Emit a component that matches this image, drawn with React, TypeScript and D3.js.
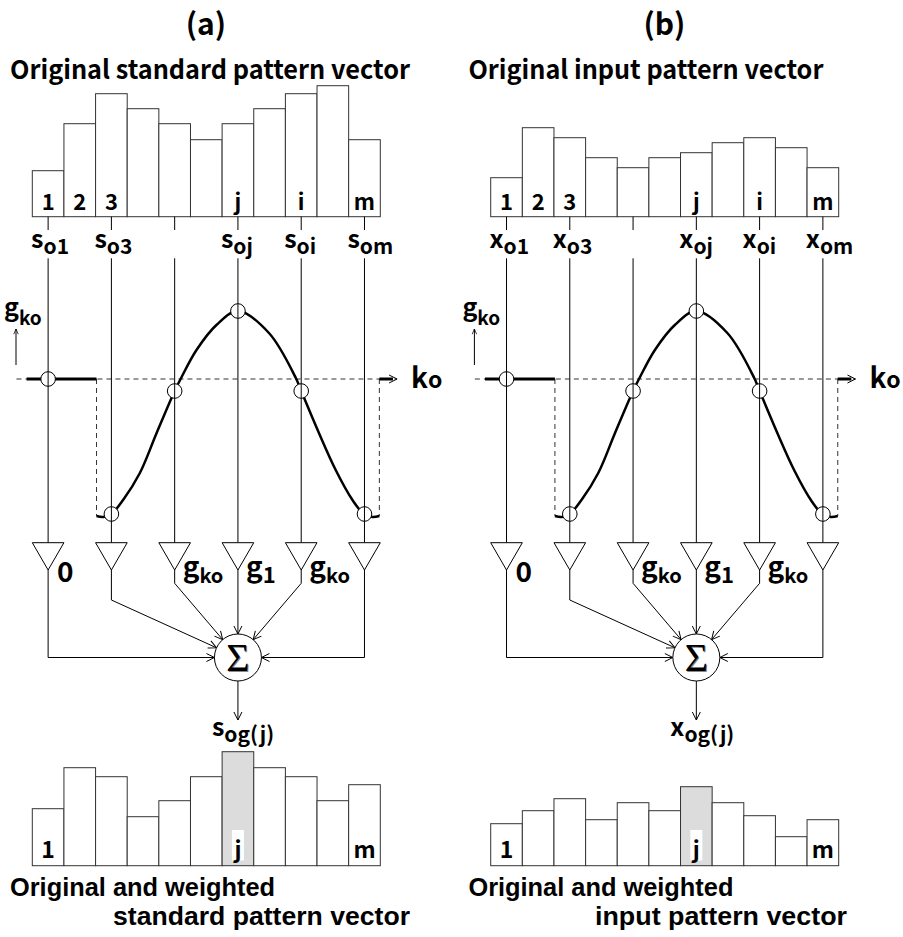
import React from 'react';
import * as d3 from 'd3';

// bar heights (same unit for all four vectors)
const standardValues = [46, 93, 123, 108, 93, 77, 93, 108, 123, 131, 77];
const inputValues = [39, 89, 79, 59, 49, 59, 64, 74, 79, 69, 49];
const standardWeighted = [57, 98, 89, 49, 65, 89, 114, 98, 89, 65, 81];
const inputWeighted = [42, 55, 67, 46, 63, 55, 79, 63, 50, 29, 46];

const barLabels = ['1', '2', '3', '', '', '', 'j', '', 'i', '', 'm'];
const weightedLabels = ['1', '', '', '', '', '', 'j', '', '', '', 'm'];

// taps: column, subscript of the label, gain label
const tapCols = [0, 2, 4, 6, 8, 10];
const tapSubs = ['1', '3', '', 'j', 'i', 'm'];
const tapGainMain = ['0', '', 'g', 'g', 'g', ''];
const tapGainSub = ['', '', 'ko', '1', 'ko', ''];
const tapGain = [0, -135, -12, 68, -12, -135];

// gain curve g(k_o), offset in columns from j
const kernelOffset = [-4.47, -4.25, -4.0, -3.63, -3.1, -2.57, -2.0, -1.78, -1.31, -0.68, 0, 0.98, 1.83, 2.0, 2.56, 3.09, 3.62, 3.98, 4.25, 4.47];
const kernelGain = [-137, -138, -135, -121, -94, -54, -12, 2, 29, 54, 68, 46, 1, -12, -54, -91, -121, -135, -138, -137];
const flatLeft = [-6.68, -4.47];
const flatRight = [4.47, 4.9];
const axisRange = [-7.0, 5.03];

const FONT = "'Noto Sans CJK JP', 'Noto Sans', sans-serif";
const FOOT_FONT = "'Liberation Sans', Arial, sans-serif";

const x = d3.scaleBand<number>().domain(d3.range(11)).range([32.3, 380.3]);
const bw = x.bandwidth();
const cx = (i: number) => (x(i) as number) + bw / 2;
const off = d3.scaleLinear().domain([-6, 4]).range([cx(0), cx(10)]);
const gY = d3.scaleLinear().domain([-140, 70]).range([519, 309]);
const yTop = d3.scaleLinear().domain([0, 140]).range([216.7, 76.7]);
const yBot = d3.scaleLinear().domain([0, 140]).range([865.7, 725.7]);

const SIG = { x: cx(6), y: 657.5, r: 23.5 };
const TRI_TOP = 542.7;
const TRI_BOT = 570;

const curveLine = d3
  .line<number>()
  .x((d) => off(kernelOffset[d]))
  .y((d) => gY(kernelGain[d]))
  .curve(d3.curveCatmullRom);

const toCircle = (px: number, py: number) => {
  const dx = SIG.x - px;
  const dy = SIG.y - py;
  const len = Math.hypot(dx, dy);
  return [SIG.x - (dx / len) * SIG.r, SIG.y - (dy / len) * SIG.r];
};

// where each wire leaves its amplifier column toward the sum (null = straight down)
const bendY = [657.5, 600, 583.3, null, 583.3, 657.5];

type PanelProps = {
  dx: number;
  letter: string;
  title: string;
  titleLen: number;
  sym: string;
  top: number[];
  bottom: number[];
  foot1Len: number;
  foot2: string;
  foot2X: number;
  foot2Len: number;
};

const Panel = ({ dx, letter, title, titleLen, sym, top, bottom, foot1Len, foot2, foot2X, foot2Len }: PanelProps) => {
  return (
    <g transform={`translate(${dx},0)`} fontFamily={FONT} fontWeight={700}>
      <text x={206} y={35} fontSize={30} textAnchor="middle">{letter}</text>
      <text x={10} y={79} fontSize={26} textLength={titleLen} lengthAdjust="spacingAndGlyphs">{title}</text>

      {/* top vector */}
      {top.map((v, i) => (
        <rect key={'t' + i} x={x(i)} y={yTop(v)} width={bw} height={yTop(0) - yTop(v)} fill="#fff" stroke="#333" strokeWidth={1} />
      ))}
      {barLabels.map((l, i) => (
        <text key={'tl' + i} x={cx(i)} y={210} fontSize={22} textAnchor="middle">{l}</text>
      ))}

      {/* taps */}
      {tapCols.map((c, k) => (
        <g key={'tap' + k}>
          <line x1={cx(c)} x2={cx(c)} y1={yTop(0)} y2={230} stroke="#000" />
          {tapSubs[k] !== '' && (
            <text x={cx(c) - 17} y={248} fontSize={25}>
              {sym}
              <tspan dy={6} fontSize={21}>{'o' + tapSubs[k]}</tspan>
            </text>
          )}
        </g>
      ))}

      {/* g axis */}
      <line x1={off(axisRange[0])} x2={off(axisRange[1])} y1={gY(0)} y2={gY(0)} stroke="#333" strokeDasharray="5,4" markerEnd="url(#arr)" />
      <line x1={off(-4.47)} x2={off(-4.47)} y1={gY(0)} y2={gY(-137)} stroke="#333" strokeDasharray="5,4" />
      <line x1={off(4.47)} x2={off(4.47)} y1={gY(0)} y2={gY(-137)} stroke="#333" strokeDasharray="5,4" />
      <line x1={off(flatLeft[0])} x2={off(flatLeft[1])} y1={gY(0)} y2={gY(0)} stroke="#000" strokeWidth={3} />
      <line x1={off(flatRight[0])} x2={off(flatRight[1])} y1={gY(0)} y2={gY(0)} stroke="#000" strokeWidth={3} />
      <path d={curveLine(d3.range(kernelOffset.length)) || ''} fill="none" stroke="#000" strokeWidth={2.5} />
      <text x={411} y={388} fontSize={28}>
        k<tspan fontSize={23}>o</tspan>
      </text>
      <text x={4} y={316} fontSize={25}>
        g<tspan dy={9} fontSize={19}>ko</tspan>
      </text>
      <line x1={16} x2={16} y1={365} y2={329} stroke="#000" markerEnd="url(#arrS)" />

      {tapCols.map((c, k) => (
        <circle key={'gc' + k} cx={cx(c)} cy={gY(tapGain[k])} r={7.3} fill="#fff" stroke="#000" />
      ))}
      {tapCols.map((c, k) => (
        <line key={'vl' + k} x1={cx(c)} x2={cx(c)} y1={258.3} y2={TRI_TOP} stroke="#000" />
      ))}

      {/* amplifiers */}
      {tapCols.map((c, k) => (
        <g key={'amp' + k}>
          <path d={`M${x(c)},${TRI_TOP}L${(x(c) as number) + bw},${TRI_TOP}L${cx(c)},${TRI_BOT}Z`} fill="#fff" stroke="#000" />
          {tapGainMain[k] !== '' && (
            <text x={cx(c) + (k === 0 ? 9 : 8)} y={tapGainMain[k] === '0' ? 582 : 577} fontSize={28}>
              {tapGainMain[k]}
              <tspan dy={6} fontSize={tapGainSub[k] === '1' ? 22 : 20}>{tapGainSub[k]}</tspan>
            </text>
          )}
        </g>
      ))}

      {/* wiring to the sum */}
      {tapCols.map((c, k) => {
        const by = bendY[k];
        if (by === null) {
          return <line key={'w' + k} x1={cx(c)} x2={cx(c)} y1={TRI_BOT} y2={SIG.y - SIG.r} stroke="#000" markerEnd="url(#arr)" />;
        }
        const end = k === 0 || k === 5 ? [SIG.x + (k === 0 ? -SIG.r : SIG.r), by] : toCircle(cx(c), by);
        return (
          <path key={'w' + k} d={`M${cx(c)},${TRI_BOT}L${cx(c)},${by}L${end[0]},${end[1]}`} fill="none" stroke="#000" markerEnd="url(#arr)" />
        );
      })}
      <circle cx={SIG.x} cy={SIG.y} r={SIG.r} fill="#fff" stroke="#000" />
      <text x={SIG.x + 1} y={SIG.y + 14} fontSize={40} fontFamily="'Liberation Serif', serif" fontWeight={400} textAnchor="middle" fill="#888">Σ</text>
      <text x={SIG.x} y={SIG.y + 13} fontSize={40} fontFamily="'Liberation Serif', serif" fontWeight={400} textAnchor="middle">Σ</text>
      <line x1={SIG.x} x2={SIG.x} y1={SIG.y + SIG.r} y2={720} stroke="#000" markerEnd="url(#arr)" />
      <text x={SIG.x - 26} y={736} fontSize={25}>
        {sym}
        <tspan dy={6} fontSize={21}>og(j)</tspan>
      </text>

      {/* weighted vector */}
      {bottom.map((v, i) => (
        <rect key={'b' + i} x={x(i)} y={yBot(v)} width={bw} height={yBot(0) - yBot(v)} fill={i === 6 ? '#dcdcdc' : '#fff'} stroke="#333" strokeWidth={1} />
      ))}
      <rect x={cx(6) - 6} y={830} width={12} height={30.5} fill="#fff" />
      {weightedLabels.map((l, i) => (
        <text key={'bl' + i} x={cx(i)} y={858} fontSize={23} textAnchor="middle">{l}</text>
      ))}
      <text x={10} y={896} fontSize={25} fontFamily={FOOT_FONT} textLength={foot1Len} lengthAdjust="spacingAndGlyphs">Original and weighted</text>
      <text x={foot2X} y={925} fontSize={25} fontFamily={FOOT_FONT} textLength={foot2Len} lengthAdjust="spacingAndGlyphs">{foot2}</text>
    </g>
  );
};

export default function App() {
  return (
    <svg width={903} height={937} style={{ position: 'absolute', left: 0, top: 0, background: '#fff' }}>
      <defs>
        <marker id="arr" viewBox="-10 -5 12 10" refX={0} refY={0} markerWidth={12} markerHeight={10} markerUnits="userSpaceOnUse" orient="auto">
          <path d="M-8,-4L0,0L-8,4" fill="none" stroke="#000" strokeWidth={1} />
        </marker>
        <marker id="arrS" viewBox="-10 -5 12 10" refX={0} refY={0} markerWidth={9} markerHeight={8} markerUnits="userSpaceOnUse" orient="auto">
          <path d="M-7,-3L0,0L-7,3" fill="none" stroke="#000" strokeWidth={1} />
        </marker>
      </defs>
      <rect width={903} height={937} fill="#fff" />
      <Panel dx={0} letter="(a)" title="Original standard pattern vector" titleLen={400} sym="s" top={standardValues} bottom={standardWeighted} foot1Len={265} foot2="standard pattern vector" foot2X={113} foot2Len={297} />
      <Panel dx={458.4} letter="(b)" title="Original input pattern vector" titleLen={355} sym="x" top={inputValues} bottom={inputWeighted} foot1Len={265} foot2="input pattern vector" foot2X={136.6} foot2Len={252} />
    </svg>
  );
}
